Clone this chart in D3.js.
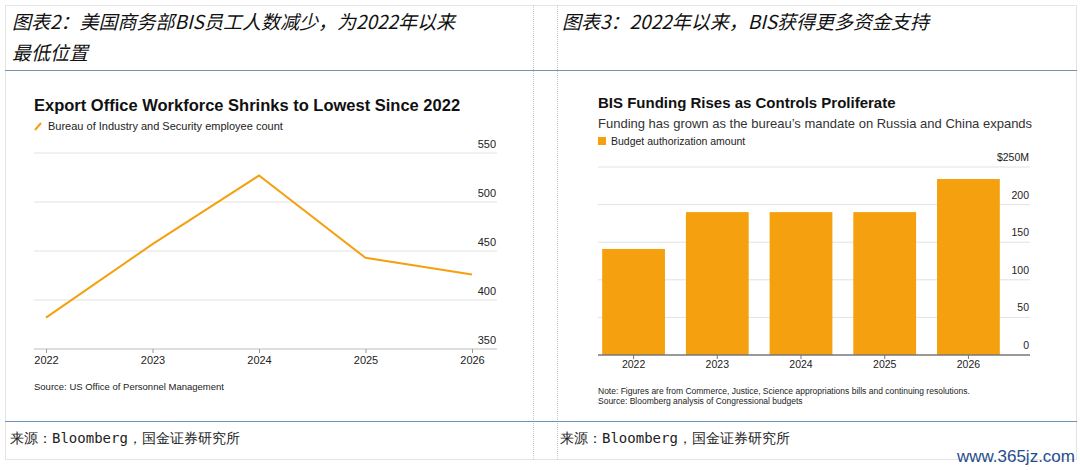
<!DOCTYPE html>
<html><head><meta charset="utf-8">
<script src="https://cdn.jsdelivr.net/npm/d3@7"></script>
<style>body{margin:0;background:#fff}svg{display:block}</style>
</head><body><div id="viewer"></div>
<script>
// data
const years = ["2022", "2023", "2024", "2025", "2026"];
const employees = [382, 457, 527, 443, 426];
const employeeTicks = [350, 400, 450, 500, 550];
const budget = [141, 190, 190, 190, 234];
const budgetTicks = [0, 50, 100, 150, 200, 250];

const orange = "#f5a00f";
const sans = "Liberation Sans, Arial, sans-serif";
const cjk = "Noto Sans CJK SC";

const svg = d3.select("#viewer").append("svg")
    .attr("width", 1080).attr("height", 470);

// report frame
const frame = svg.append("g").attr("fill", "none").attr("stroke", "#c8c8c8").attr("stroke-dasharray", "1,1");
frame.append("rect").attr("x", 5.5).attr("y", 5.5).attr("width", 1071).attr("height", 454);
[533.5, 557.5].forEach(x => frame.append("line").attr("x1", x).attr("x2", x).attr("y1", 5).attr("y2", 460));
[70.5, 421.5].forEach(y => svg.append("line").attr("x1", 5).attr("x2", 1077).attr("y1", y).attr("y2", y)
    .attr("stroke", "#6f94b3").attr("stroke-width", 1.2));

// header titles
const head = svg.append("g").attr("font-family", cjk).attr("font-style", "italic")
    .attr("font-size", 19).attr("fill", "#111");
head.append("text").attr("x", 12).attr("y", 29).text("图表2：美国商务部BIS员工人数减少，为2022年以来");
head.append("text").attr("x", 12).attr("y", 60).text("最低位置");
head.append("text").attr("x", 562).attr("y", 29).text("图表3：2022年以来，BIS获得更多资金支持");

const foot = svg.append("g").attr("font-family", "DejaVu Sans Mono, monospace").attr("font-size", 14).attr("fill", "#222");
foot.append("text").attr("x", 10).attr("y", 443).text("来源：Bloomberg，国金证券研究所");
foot.append("text").attr("x", 560).attr("y", 443).text("来源：Bloomberg，国金证券研究所");
svg.append("text").attr("x", 1075).attr("y", 462).attr("text-anchor", "end")
    .attr("font-family", "Liberation Sans Narrow, " + sans).attr("font-size", 17).attr("fill", "#1f4e8c")
    .text("www.365jz.com");

// ---- left: line chart
const L = svg.append("g").attr("font-family", sans);
L.append("text").attr("x", 34).attr("y", 111).attr("font-size", 16.5).attr("font-weight", "bold").attr("fill", "#111")
    .text("Export Office Workforce Shrinks to Lowest Since 2022");
L.append("line").attr("x1", 35).attr("x2", 41).attr("y1", 130).attr("y2", 123).attr("stroke", orange).attr("stroke-width", 2);
L.append("text").attr("x", 48).attr("y", 130).attr("font-size", 11).attr("fill", "#222")
    .text("Bureau of Industry and Security employee count");

const lx = d3.scalePoint().domain(years).range([46, 472]);
const ly = d3.scaleLinear().domain([350, 550]).range([349, 153]);
L.append("g").selectAll("line").data(employeeTicks).join("line")
    .attr("x1", 34).attr("x2", 497).attr("y1", d => ly(d)).attr("y2", d => ly(d))
    .attr("stroke", d => d === 350 ? "#bbb" : "#e2e2e2");
L.append("g").selectAll("text").data(employeeTicks).join("text")
    .attr("x", 496).attr("y", d => ly(d) - 5).attr("text-anchor", "end").attr("font-size", 11).attr("fill", "#222")
    .text(d => d);
const lxAxis = L.append("g").attr("transform", "translate(0,349)")
    .call(d3.axisBottom(lx).tickSize(4).tickPadding(3));
lxAxis.select(".domain").remove();
lxAxis.selectAll("line").attr("stroke", "#999");
lxAxis.selectAll("text").attr("font-size", 11).attr("fill", "#222").attr("font-family", sans);
L.append("path").datum(employees)
    .attr("fill", "none").attr("stroke", orange).attr("stroke-width", 2)
    .attr("d", d3.line().x((d, i) => lx(years[i])).y(d => ly(d)));
L.append("text").attr("x", 34).attr("y", 390).attr("font-size", 9.5).attr("fill", "#222")
    .text("Source: US Office of Personnel Management");

// ---- right: bar chart
const R = svg.append("g").attr("font-family", sans);
R.append("text").attr("x", 598).attr("y", 108).attr("font-size", 15).attr("font-weight", "bold").attr("fill", "#111")
    .text("BIS Funding Rises as Controls Proliferate");
R.append("text").attr("x", 598).attr("y", 128).attr("font-size", 13).attr("fill", "#333")
    .text("Funding has grown as the bureau\u2019s mandate on Russia and China expands");
R.append("rect").attr("x", 598).attr("y", 137).attr("width", 8).attr("height", 8).attr("fill", orange);
R.append("text").attr("x", 611).attr("y", 145).attr("font-size", 10.5).attr("fill", "#222")
    .text("Budget authorization amount");

const bx = d3.scaleBand().domain(years).range([598, 1004]).paddingInner(0.25).paddingOuter(0.05);
const by = d3.scaleLinear().domain([0, 250]).range([355, 167]);
R.append("g").selectAll("line").data(budgetTicks.filter(d => d > 0)).join("line")
    .attr("x1", 598).attr("x2", 1030).attr("y1", d => by(d)).attr("y2", d => by(d)).attr("stroke", "#e2e2e2");
R.append("g").selectAll("rect").data(budget).join("rect")
    .attr("x", (d, i) => bx(years[i])).attr("width", bx.bandwidth())
    .attr("y", d => by(d)).attr("height", d => by(0) - by(d)).attr("fill", orange);
R.append("g").selectAll("text").data(budgetTicks).join("text")
    .attr("x", 1029).attr("y", d => by(d) - 6).attr("text-anchor", "end").attr("font-size", 10.5).attr("fill", "#222")
    .text(d => d === 250 ? "$250M" : d);
const bxAxis = R.append("g").attr("transform", "translate(0,355)")
    .call(d3.axisBottom(bx).tickSize(4).tickPadding(2));
bxAxis.select(".domain").remove();
bxAxis.selectAll("line").attr("stroke", "#777");
bxAxis.selectAll("text").attr("font-size", 10.5).attr("fill", "#222").attr("font-family", sans);
R.append("line").attr("x1", 598).attr("x2", 1030).attr("y1", 355).attr("y2", 355).attr("stroke", "#777").attr("stroke-width", 1.5);
R.append("text").attr("x", 598).attr("y", 394).attr("font-size", 8.5).attr("fill", "#222")
    .text("Note: Figures are from Commerce, Justice, Science appropriations bills and continuing resolutions.");
R.append("text").attr("x", 598).attr("y", 404).attr("font-size", 8.5).attr("fill", "#222")
    .text("Source: Bloomberg analysis of Congressional budgets");
</script></body></html>
